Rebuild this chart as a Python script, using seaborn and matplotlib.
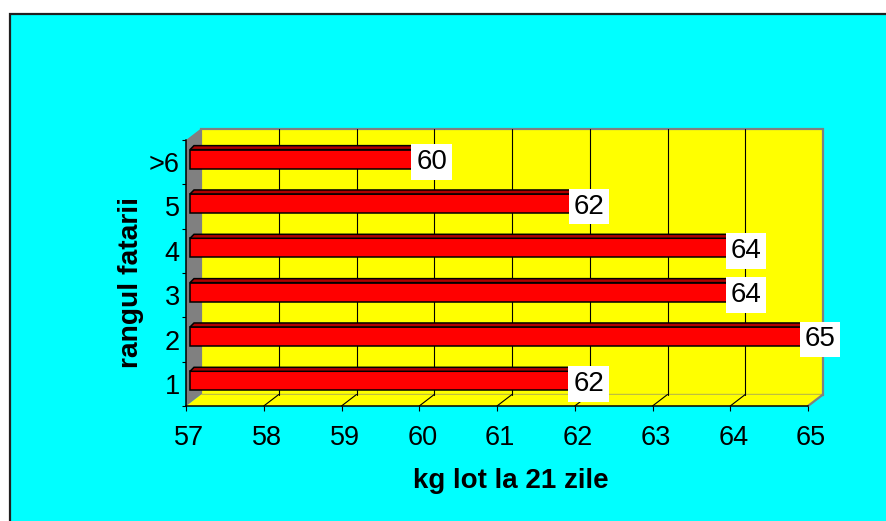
import numpy as np
import pandas as pd
import matplotlib
matplotlib.use("Agg")
import matplotlib.pyplot as plt
from matplotlib.patches import Polygon, Rectangle
from matplotlib.lines import Line2D
from matplotlib.transforms import ScaledTranslation
import seaborn as sns

# Average litter weight at 21 days by parity rank
categories = ["1", "2", "3", "4", "5", ">6"]
kg_lot = [61.89, 64.87, 63.91, 63.91, 61.90, 59.87]
x_ticks = [57, 58, 59, 60, 61, 62, 63, 64, 65]
x_title = "kg lot la 21 zile"
y_title = "rangul fatarii"

sns.set_theme(style="white")
plt.rcParams["font.family"] = ["Liberation Sans", "DejaVu Sans"]

W, H, DPI = 887, 521, 100
fig = plt.figure(figsize=(W / DPI, H / DPI), dpi=DPI, facecolor="white")

# cyan chart area with a dark frame
fig.patches.append(Rectangle((10 / W, -0.2), 1.3, 1.2 - 14 / H,
                             transform=fig.transFigure, facecolor="#00FFFF",
                             edgecolor="#202020", linewidth=1.6, zorder=-1))

ax = fig.add_axes([186 / W, 1 - 406 / H, (808 - 186) / W, (406 - 140) / H])
ax.set_facecolor("none")

order = categories[::-1]
df = pd.DataFrame({"rang": categories, "kg": kg_lot})
sns.barplot(data=df, x="kg", y="rang", order=order, orient="h",
            color="#FF0000", saturation=1, edgecolor="black", linewidth=1.1,
            width=0.43, ax=ax, zorder=5)

x0, x1 = x_ticks[0], x_ticks[-1]
y_bot, y_top = len(order) - 0.5, -0.5
ax.set_xlim(x0, x1)
ax.set_ylim(y_bot, y_top)

# oblique depth of the walls and of the bars, in pixels
DX, DY = 15, 11.5
BX, BY = 4, 3
TX, TY = 4, 4


def shifted(x, y, dx=0.0, dy=0.0):
    X, Y = ax.transData.transform((x, y))
    return tuple(ax.transData.inverted().transform((X + dx, Y + dy)))


def add_poly(pts, **kw):
    ax.add_patch(Polygon(pts, closed=True, clip_on=False, **kw))


def add_line(p, q, **kw):
    ax.add_line(Line2D([p[0], q[0]], [p[1], q[1]], clip_on=False, **kw))


bars = list(ax.patches)

# back wall
add_poly([shifted(x0, y_bot, DX, DY), shifted(x1, y_bot, DX, DY),
          shifted(x1, y_top, DX, DY), shifted(x0, y_top, DX, DY)],
         facecolor="#FFFF00", edgecolor="#808080", linewidth=1.6, zorder=1)
for t in x_ticks[1:-1]:
    add_line(shifted(t, y_bot, DX, DY), shifted(t, y_top, DX, DY),
             color="black", linewidth=0.8, zorder=1.5)

# floor
add_poly([shifted(x0, y_bot), shifted(x1, y_bot),
          shifted(x1, y_bot, DX, DY), shifted(x0, y_bot, DX, DY)],
         facecolor="#FFFF00", edgecolor="none", zorder=1.2)
for t in x_ticks[1:-1]:
    add_line(shifted(t, y_bot), shifted(t, y_bot, DX, DY),
             color="black", linewidth=0.8, zorder=1.5)
add_line(shifted(x1, y_bot), shifted(x1, y_bot, DX, DY),
         color="#808080", linewidth=1.6, zorder=1.6)

# left side wall
add_poly([shifted(x0, y_bot), shifted(x0, y_top),
          shifted(x0, y_top, DX, DY), shifted(x0, y_bot, DX, DY)],
         facecolor="#808080", edgecolor="none", zorder=2)

# 3D bars: front faces from seaborn, top and end faces added
front = ScaledTranslation(BX / DPI, BY / DPI, fig.dpi_scale_trans)
for p, val in zip(bars, [kg_lot[categories.index(c)] for c in order]):
    p.set_x(x0)
    p.set_width(val - x0)
    p.set_transform(ax.transData + front)
    p.set_clip_on(False)
    yt = min(p.get_y(), p.get_y() + p.get_height())
    yb = max(p.get_y(), p.get_y() + p.get_height())
    add_poly([shifted(x0, yt, BX, BY), shifted(val, yt, BX, BY),
              shifted(val, yt, BX + TX, BY + TY), shifted(x0, yt, BX + TX, BY + TY)],
             facecolor="#B00000", edgecolor="black", linewidth=1.1, zorder=5.5)
    add_poly([shifted(val, yb, BX, BY), shifted(val, yt, BX, BY),
              shifted(val, yt, BX + TX, BY + TY), shifted(val, yb, BX + TX, BY + TY)],
             facecolor="#C00000", edgecolor="black", linewidth=1.1, zorder=5.5)
    yc = (yt + yb) / 2
    ax.text(val, yc, f"{val:.0f}", ha="left", va="center", fontsize=20,
            color="black", zorder=10, clip_on=False,
            transform=ax.transData + ScaledTranslation((BX + 3) / DPI, 0,
                                                       fig.dpi_scale_trans),
            bbox=dict(boxstyle="square,pad=0.17", facecolor="white",
                      edgecolor="none"))

# axes, ticks and labels
for side in ("top", "right"):
    ax.spines[side].set_visible(False)
for side in ("left", "bottom"):
    ax.spines[side].set_color("black")
    ax.spines[side].set_linewidth(1.1)
    ax.spines[side].set_zorder(3)

ax.set_xticks(x_ticks)
ax.set_xticklabels([str(t) for t in x_ticks])
ax.tick_params(axis="x", bottom=True, length=3.6, width=0.8, direction="out",
               pad=10, labelsize=19.5, colors="black")
ax.set_yticks(range(len(order)))
ax.set_yticklabels(order)
ax.set_yticks(np.arange(-0.5, len(order), 1.0), minor=True)
ax.tick_params(axis="y", which="major", left=True, length=0, pad=4.5,
               labelsize=19.5, colors="black")
ax.tick_params(axis="y", which="minor", left=True, length=3, width=0.8,
               direction="out", colors="black")
for lbl in ax.get_xticklabels():
    lbl.set_transform(lbl.get_transform() +
                      ScaledTranslation(3 / DPI, 0, fig.dpi_scale_trans))
ax.set_xlabel("")
ax.set_ylabel("")

fig.text(511 / W, 1 - 481 / H, x_title, ha="center", va="center",
         fontsize=20, fontweight="bold", color="black")
fig.text(131 / W, 1 - 282 / H, y_title, ha="center", va="center",
         rotation=90, fontsize=20.3, fontweight="bold", color="black")

fig.savefig("out.png", dpi=DPI, facecolor="white")
